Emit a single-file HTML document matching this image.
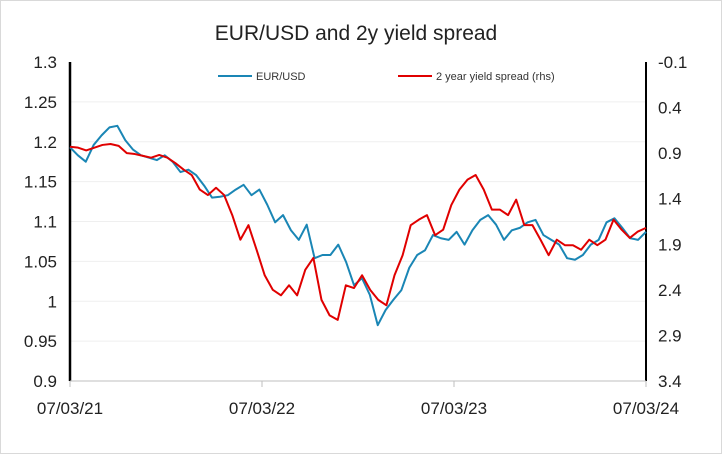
<!DOCTYPE html>
<html><head><meta charset="utf-8"><style>
body{margin:0;background:#fff;font-family:"Liberation Sans",Arial,sans-serif}
svg text{font-family:"Liberation Sans",Arial,sans-serif}
</style></head><body>
<svg id="c" width="722" height="454">
<rect x="0.5" y="0.5" width="721" height="453" fill="#fff" stroke="#d9d9d9"/>
<text x="356" y="40" font-size="21" text-anchor="middle" fill="#222">EUR/USD and 2y yield spread</text>
<g id="grid"></g>
<g id="axes"></g>
<g id="series"></g>
<g>
<line x1="218" y1="76" x2="252" y2="76" stroke="#1a86b5" stroke-width="2"/>
<text x="256" y="80" font-size="11" fill="#333">EUR/USD</text>
<line x1="398" y1="76" x2="432" y2="76" stroke="#e00000" stroke-width="2"/>
<text x="436" y="80" font-size="11" fill="#333">2 year yield spread (rhs)</text>
</g>
</svg>
<script>
const xTickLabels=["07/03/21","07/03/22","07/03/23","07/03/24"];
const leftTicks=[1.3,1.25,1.2,1.15,1.1,1.05,1,0.95,0.9];
const rightTicks=[-0.1,0.4,0.9,1.4,1.9,2.4,2.9,3.4];
const eurusd=[1.193,1.183,1.175,1.196,1.208,1.218,1.22,1.202,1.19,1.183,1.18,1.177,1.183,1.175,1.162,1.165,1.158,1.145,1.13,1.131,1.133,1.14,1.146,1.133,1.14,1.121,1.099,1.108,1.089,1.077,1.096,1.054,1.058,1.058,1.071,1.049,1.02,1.029,1.008,0.97,0.989,1.002,1.014,1.042,1.058,1.064,1.083,1.079,1.077,1.087,1.071,1.089,1.102,1.108,1.096,1.077,1.089,1.092,1.099,1.102,1.083,1.077,1.071,1.054,1.052,1.058,1.071,1.077,1.099,1.104,1.092,1.079,1.077,1.087];
const spread=[0.83,0.84,0.87,0.84,0.81,0.80,0.82,0.90,0.91,0.93,0.95,0.92,0.95,1.01,1.08,1.14,1.30,1.36,1.28,1.36,1.58,1.85,1.69,1.96,2.24,2.40,2.46,2.35,2.46,2.18,2.05,2.51,2.68,2.73,2.35,2.38,2.24,2.40,2.51,2.57,2.24,2.02,1.69,1.63,1.58,1.80,1.74,1.47,1.30,1.19,1.14,1.30,1.52,1.52,1.58,1.41,1.69,1.69,1.85,2.02,1.85,1.91,1.91,1.96,1.85,1.91,1.85,1.63,1.74,1.83,1.76,1.72];
const X0=70,X1=646,Y0=62,Y1=381;
const ns="http://www.w3.org/2000/svg";
const yL=v=>Y0+(1.3-v)/0.4*(Y1-Y0);
const yR=v=>Y0+(v+0.1)/3.5*(Y1-Y0);
const xAt=(i,n)=>X0+i/(n-1)*(X1-X0);
function mk(tag,attrs,parent,text){const e=document.createElementNS(ns,tag);for(const k in attrs)e.setAttribute(k,attrs[k]);if(text!==undefined)e.textContent=text;parent.appendChild(e);return e;}
const grid=document.getElementById('grid'),axes=document.getElementById('axes'),ser=document.getElementById('series');
leftTicks.forEach(v=>{
 const y=yL(v);
 if(v<1.3&&v>0.9){const g=mk('line',{x1:X0,x2:X1,y1:y,y2:y,stroke:'#efefef','stroke-width':1},grid);
 
 }
 const t=mk('text',{x:X0-13,y:y+6,'font-size':17,'text-anchor':'end',fill:'#222'},axes,String(v));
 
 
});
rightTicks.forEach(v=>{
 const y=yR(v);
 const t=mk('text',{x:X1+12,y:y+6,'font-size':17,fill:'#222'},axes,String(v));
 
 
});
const la=mk('line',{x1:X0,x2:X0,y1:Y0,y2:Y1,stroke:'#000','stroke-width':2.5},axes);


const ra=mk('line',{x1:X1,x2:X1,y1:Y0,y2:Y1,stroke:'#000','stroke-width':2},axes);


const xa=mk('line',{x1:X0,x2:X1,y1:Y1,y2:Y1,stroke:'#bfbfbf','stroke-width':1},axes);


xTickLabels.forEach((l,i)=>{
 const x=X0+i/(xTickLabels.length-1)*(X1-X0);
 mk('line',{x1:x,x2:x,y1:Y1,y2:Y1+6,stroke:'#bfbfbf'},axes);
 const t=mk('text',{x:x,y:Y1+33,'font-size':17,'text-anchor':'middle',fill:'#222'},axes,l);
 
 
});
const pb=mk('polyline',{points:eurusd.map((v,i)=>xAt(i,eurusd.length)+','+yL(v)).join(' '),fill:'none',stroke:'#1a86b5','stroke-width':2,'stroke-linejoin':'round'},ser);


const pr=mk('polyline',{points:spread.map((v,i)=>xAt(i,spread.length)+','+yR(v)).join(' '),fill:'none',stroke:'#e00000','stroke-width':2,'stroke-linejoin':'round'},ser);


</script>
</body></html>
